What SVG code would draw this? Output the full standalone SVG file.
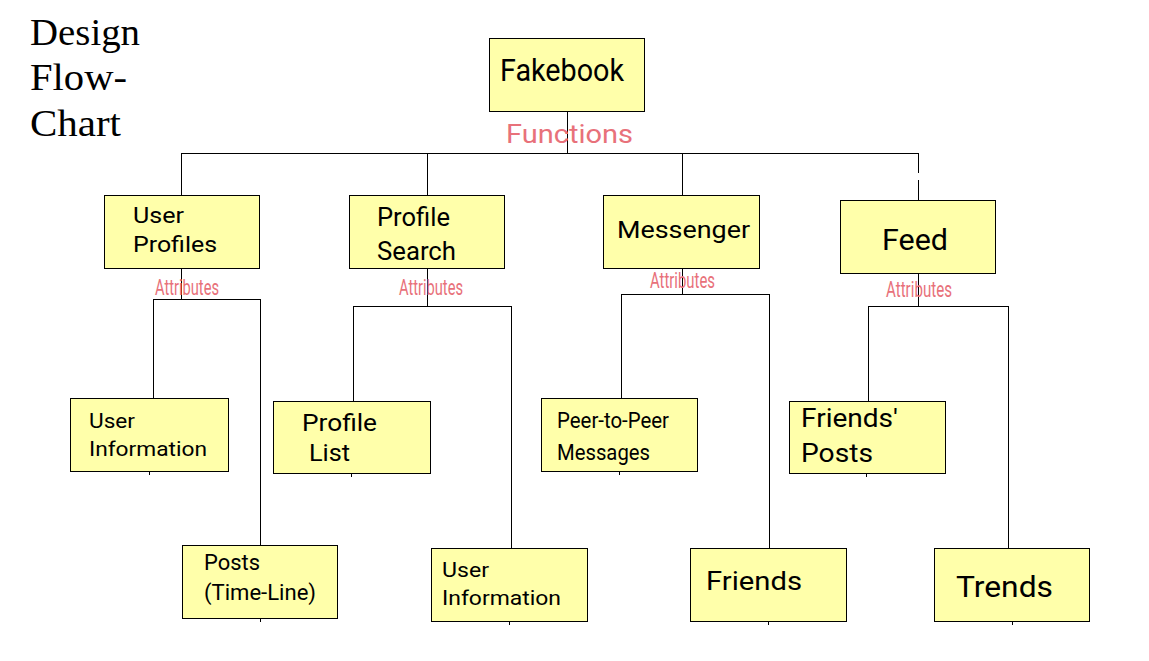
<svg xmlns="http://www.w3.org/2000/svg" width="1149" height="661" viewBox="0 0 1149 661">
<style>
.box{fill:#ffffaa;stroke:#000;stroke-width:1;shape-rendering:crispEdges}
.t{font-family:Roboto,"Liberation Sans",sans-serif;fill:#000}
.attr{font-family:Roboto,"Liberation Sans",sans-serif;fill:#e8717a;font-size:22px}
.title{font-family:"Liberation Serif","DejaVu Serif",serif;font-size:37px;fill:#000}
#connectors path{fill:none;stroke:#000;stroke-width:1;shape-rendering:crispEdges}
</style>
<rect width="1149" height="661" fill="#fff"/>
<g id="title">
<text class="title" x="30" y="45" textLength="110" lengthAdjust="spacingAndGlyphs">Design</text>
<text class="title" x="30" y="90" textLength="97" lengthAdjust="spacingAndGlyphs">Flow-</text>
<text class="title" x="30" y="136" textLength="91" lengthAdjust="spacingAndGlyphs">Chart</text>
</g>
<g id="connectors">
<path d="M567 111V153M181 153H918M181 153V195M427 153V195M682 153V195M918 153V173M918 180V200"/>
<path d="M181 268V299M153 299H260M153 299V398M260 299V545"/>
<path d="M427 268V306M353 306H511M353 306V401M511 306V548"/>
<path d="M682 268V294M621 294H769M621 294V398M769 294V548"/>
<path d="M918 273V306M868 306H1008M868 306V401M1008 306V548"/>
<path d="M149 471V475M351 473V477M619 471V475M866 473V477M260 618V622M509 621V625M768 621V625M1012 621V625"/>
</g>
<g id="fakebook">
<rect class="box" x="489" y="38" width="155" height="73"/>
<text class="t" x="500" y="81" font-size="32" textLength="124" lengthAdjust="spacingAndGlyphs">Fakebook</text>
</g>
<text class="attr" x="506" y="143" style="font-size:26px" textLength="127" lengthAdjust="spacingAndGlyphs">Functions</text>
<g id="user-profiles">
<rect class="box" x="104" y="195" width="155" height="73"/>
<text class="t" x="133" y="223" font-size="22" textLength="51" lengthAdjust="spacingAndGlyphs">User</text>
<text class="t" x="133" y="252" font-size="22" textLength="84" lengthAdjust="spacingAndGlyphs">Profiles</text>
</g>
<g id="profile-search">
<rect class="box" x="349" y="195" width="155" height="73"/>
<text class="t" x="377" y="226" font-size="25" textLength="73" lengthAdjust="spacingAndGlyphs">Profile</text>
<text class="t" x="377" y="260" font-size="25" textLength="79" lengthAdjust="spacingAndGlyphs">Search</text>
</g>
<g id="messenger">
<rect class="box" x="603" y="195" width="156" height="73"/>
<text class="t" x="617" y="238" font-size="24" textLength="133" lengthAdjust="spacingAndGlyphs">Messenger</text>
</g>
<g id="feed">
<rect class="box" x="840" y="200" width="155" height="73"/>
<text class="t" x="882" y="250" font-size="29" textLength="66" lengthAdjust="spacingAndGlyphs">Feed</text>
</g>
<g id="attributes">
<text class="attr" x="155" y="295" textLength="64" lengthAdjust="spacingAndGlyphs">Attributes</text>
<text class="attr" x="399" y="295" textLength="64" lengthAdjust="spacingAndGlyphs">Attributes</text>
<text class="attr" x="650" y="288" textLength="65" lengthAdjust="spacingAndGlyphs">Attributes</text>
<text class="attr" x="886" y="297" textLength="66" lengthAdjust="spacingAndGlyphs">Attributes</text>
</g>
<g id="user-information-1">
<rect class="box" x="70" y="398" width="158" height="73"/>
<text class="t" x="89" y="428" font-size="21" textLength="46" lengthAdjust="spacingAndGlyphs">User</text>
<text class="t" x="89" y="456" font-size="21" textLength="118" lengthAdjust="spacingAndGlyphs">Information</text>
</g>
<g id="profile-list">
<rect class="box" x="273" y="401" width="157" height="72"/>
<text class="t" x="302" y="431" font-size="24" textLength="75" lengthAdjust="spacingAndGlyphs">Profile</text>
<text class="t" x="309" y="461" font-size="24" textLength="41" lengthAdjust="spacingAndGlyphs">List</text>
</g>
<g id="peer-messages">
<rect class="box" x="541" y="398" width="156" height="73"/>
<text class="t" x="557" y="428" font-size="22" textLength="112" lengthAdjust="spacingAndGlyphs">Peer-to-Peer</text>
<text class="t" x="557" y="460" font-size="22" textLength="93" lengthAdjust="spacingAndGlyphs">Messages</text>
</g>
<g id="friends-posts">
<rect class="box" x="789" y="401" width="156" height="72"/>
<text class="t" x="801" y="427" font-size="26" textLength="97" lengthAdjust="spacingAndGlyphs">Friends'</text>
<text class="t" x="801" y="462" font-size="26" textLength="72" lengthAdjust="spacingAndGlyphs">Posts</text>
</g>
<g id="posts-timeline">
<rect class="box" x="182" y="545" width="155" height="73"/>
<text class="t" x="204" y="570" font-size="22" textLength="56" lengthAdjust="spacingAndGlyphs">Posts</text>
<text class="t" x="204" y="600" font-size="22" textLength="112" lengthAdjust="spacingAndGlyphs">(Time-Line)</text>
</g>
<g id="user-information-2">
<rect class="box" x="431" y="548" width="156" height="73"/>
<text class="t" x="442" y="577" font-size="21" textLength="47" lengthAdjust="spacingAndGlyphs">User</text>
<text class="t" x="442" y="605" font-size="21" textLength="119" lengthAdjust="spacingAndGlyphs">Information</text>
</g>
<g id="friends">
<rect class="box" x="690" y="548" width="156" height="73"/>
<text class="t" x="706" y="590" font-size="26" textLength="96" lengthAdjust="spacingAndGlyphs">Friends</text>
</g>
<g id="trends">
<rect class="box" x="934" y="548" width="155" height="73"/>
<text class="t" x="956" y="597" font-size="29" textLength="97" lengthAdjust="spacingAndGlyphs">Trends</text>
</g>
</svg>
